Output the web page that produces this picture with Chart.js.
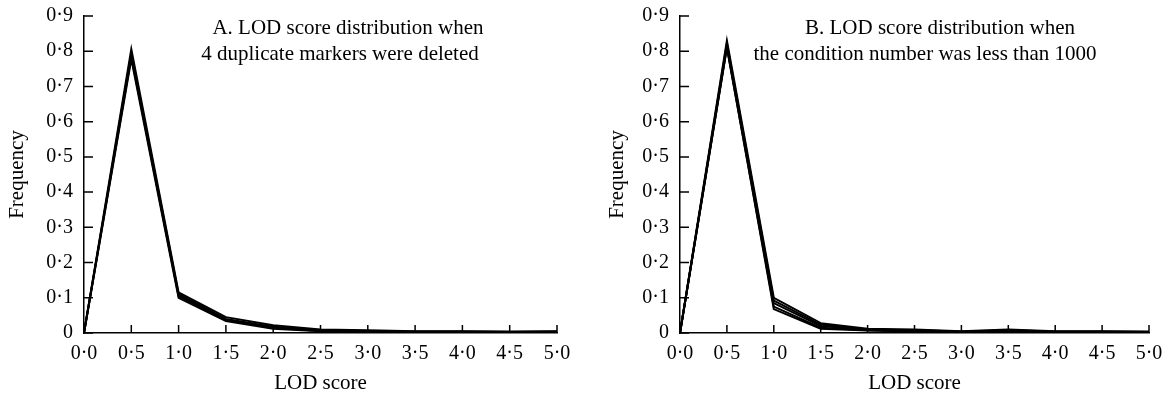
<!DOCTYPE html>
<html>
<head>
<meta charset="utf-8">
<script src="https://cdn.jsdelivr.net/npm/chart.js@4.4.1/dist/chart.umd.min.js"></script>
<style>
  body { margin: 0; background: #fff; }
  .panel { position: absolute; top: 0; height: 393px; }
  #left { left: 0; width: 583px; }
  #right { left: 583px; width: 584px; }
</style>
</head>
<body>
<div class="panel" id="left"><canvas id="chartA"></canvas></div>
<div class="panel" id="right"><canvas id="chartB"></canvas></div>
<script>
// LOD score bins (x axis)
const lodLabels = ['0·0', '0·5', '1·0', '1·5', '2·0', '2·5', '3·0', '3·5', '4·0', '4·5', '5·0'];
const yTicks = [0, 0.1, 0.2, 0.3, 0.4, 0.5, 0.6, 0.7, 0.8, 0.9];

// Panel A: 4 duplicate markers deleted
const seriesA1 = [0, 0.806, 0.115, 0.045, 0.022, 0.010, 0.008, 0.005, 0.005, 0.004, 0.005];
const seriesA2 = [0, 0.795, 0.110, 0.040, 0.018, 0.008, 0.006, 0.004, 0.004, 0.003, 0.004];
const seriesA3 = [0, 0.785, 0.105, 0.037, 0.015, 0.006, 0.005, 0.003, 0.003, 0.003, 0.003];
const seriesA4 = [0, 0.778, 0.100, 0.034, 0.012, 0.005, 0.004, 0.002, 0.002, 0.002, 0.002];

// Panel B: condition number < 1000
const seriesB1 = [0, 0.830, 0.100, 0.028, 0.012, 0.010, 0.005, 0.010, 0.005, 0.005, 0.004];
const seriesB2 = [0, 0.822, 0.092, 0.024, 0.010, 0.008, 0.004, 0.008, 0.004, 0.004, 0.003];
const seriesB3 = [0, 0.815, 0.085, 0.020, 0.009, 0.006, 0.003, 0.006, 0.003, 0.003, 0.002];
const seriesB4 = [0, 0.810, 0.075, 0.015, 0.008, 0.005, 0.003, 0.005, 0.002, 0.002, 0.002];
const seriesB5 = [0, 0.812, 0.068, 0.012, 0.007, 0.004, 0.002, 0.004, 0.002, 0.002, 0.002];

const titleA = ['A. LOD score distribution when', '4 duplicate markers were deleted'];
const titleB = ['B. LOD score distribution when', 'the condition number was less than 1000'];

const FONT = "'Liberation Serif', 'Times New Roman', serif";
const FS = 21;
const TICK_FS = 20;

// inward tick marks + the panel caption
const figurePlugin = {
    id: 'figure',
    afterDraw(chart, args, opts) {
        const ctx = chart.ctx;
        const x = chart.scales.x, y = chart.scales.y;
        const area = chart.chartArea;
        ctx.save();
        ctx.strokeStyle = '#000';
        ctx.lineWidth = 1.5;
        ctx.beginPath();
        x.ticks.forEach((t, i) => {
            const px = x.getPixelForTick(i);
            ctx.moveTo(px, area.bottom);
            ctx.lineTo(px, area.bottom - 8);
        });
        y.ticks.forEach((t, i) => {
            const py = y.getPixelForTick(i);
            ctx.moveTo(area.left, py);
            ctx.lineTo(area.left + 9, py);
        });
        ctx.stroke();

        ctx.fillStyle = '#000';
        ctx.font = FS + 'px ' + FONT;
        ctx.textAlign = 'center';
        ctx.textBaseline = 'middle';
        opts.lines.forEach((line, i) => {
            ctx.fillText(line, area.left + opts.cx[i], area.top + 12 + i * 26);
        });
        ctx.restore();
    }
};

function makeChart(canvasId, seriesList, caption, cx, axisWidth, padRight, titlePad) {
    return new Chart(document.getElementById(canvasId), {
        type: 'line',
        data: {
            labels: lodLabels,
            datasets: seriesList.map((s, i) => ({
                label: 'run ' + (i + 1),
                data: s,
                borderColor: '#000',
                borderWidth: 2,
                pointRadius: 0,
                tension: 0,
                fill: false
            }))
        },
        options: {
            responsive: true,
            maintainAspectRatio: false,
            animation: false,
            layout: { padding: { top: 16, right: padRight, bottom: 0, left: 0 } },
            plugins: {
                legend: { display: false },
                tooltip: { enabled: false },
                figure: { lines: caption, cx: cx }
            },
            scales: {
                x: {
                    type: 'category',
                    offset: false,
                    grid: { display: false },
                    border: { display: true, color: '#000', width: 1.5 },
                    ticks: {
                        color: '#000',
                        padding: 1,
                        maxRotation: 0,
                        autoSkip: false,
                        font: { family: FONT, size: TICK_FS }
                    },
                    title: {
                        display: true,
                        text: 'LOD score',
                        color: '#000',
                        padding: { top: 4, bottom: -3 },
                        font: { family: FONT, size: FS }
                    },
                    afterFit(scale) { scale.height = 60; }
                },
                y: {
                    min: 0,
                    max: 0.9,
                    grid: { display: false },
                    border: { display: true, color: '#000', width: 1.5 },
                    afterBuildTicks(scale) {
                        scale.ticks = yTicks.map(v => ({ value: v }));
                    },
                    ticks: {
                        color: '#000',
                        padding: 3,
                        font: { family: FONT, size: TICK_FS },
                        callback: v => v === 0 ? '0' : v.toFixed(1).replace('.', '·')
                    },
                    title: {
                        display: true,
                        text: 'Frequency',
                        color: '#000',
                        padding: { top: titlePad, bottom: 0 },
                        font: { family: FONT, size: FS }
                    },
                    afterFit(scale) { scale.width = axisWidth; }
                }
            }
        },
        plugins: [figurePlugin]
    });
}

makeChart('chartA', [seriesA1, seriesA2, seriesA3, seriesA4], titleA, [264, 256], 84, 26, 5);
makeChart('chartB', [seriesB1, seriesB2, seriesB3, seriesB4, seriesB5], titleB, [260, 245], 97, 18, 22);
</script>
</body>
</html>
